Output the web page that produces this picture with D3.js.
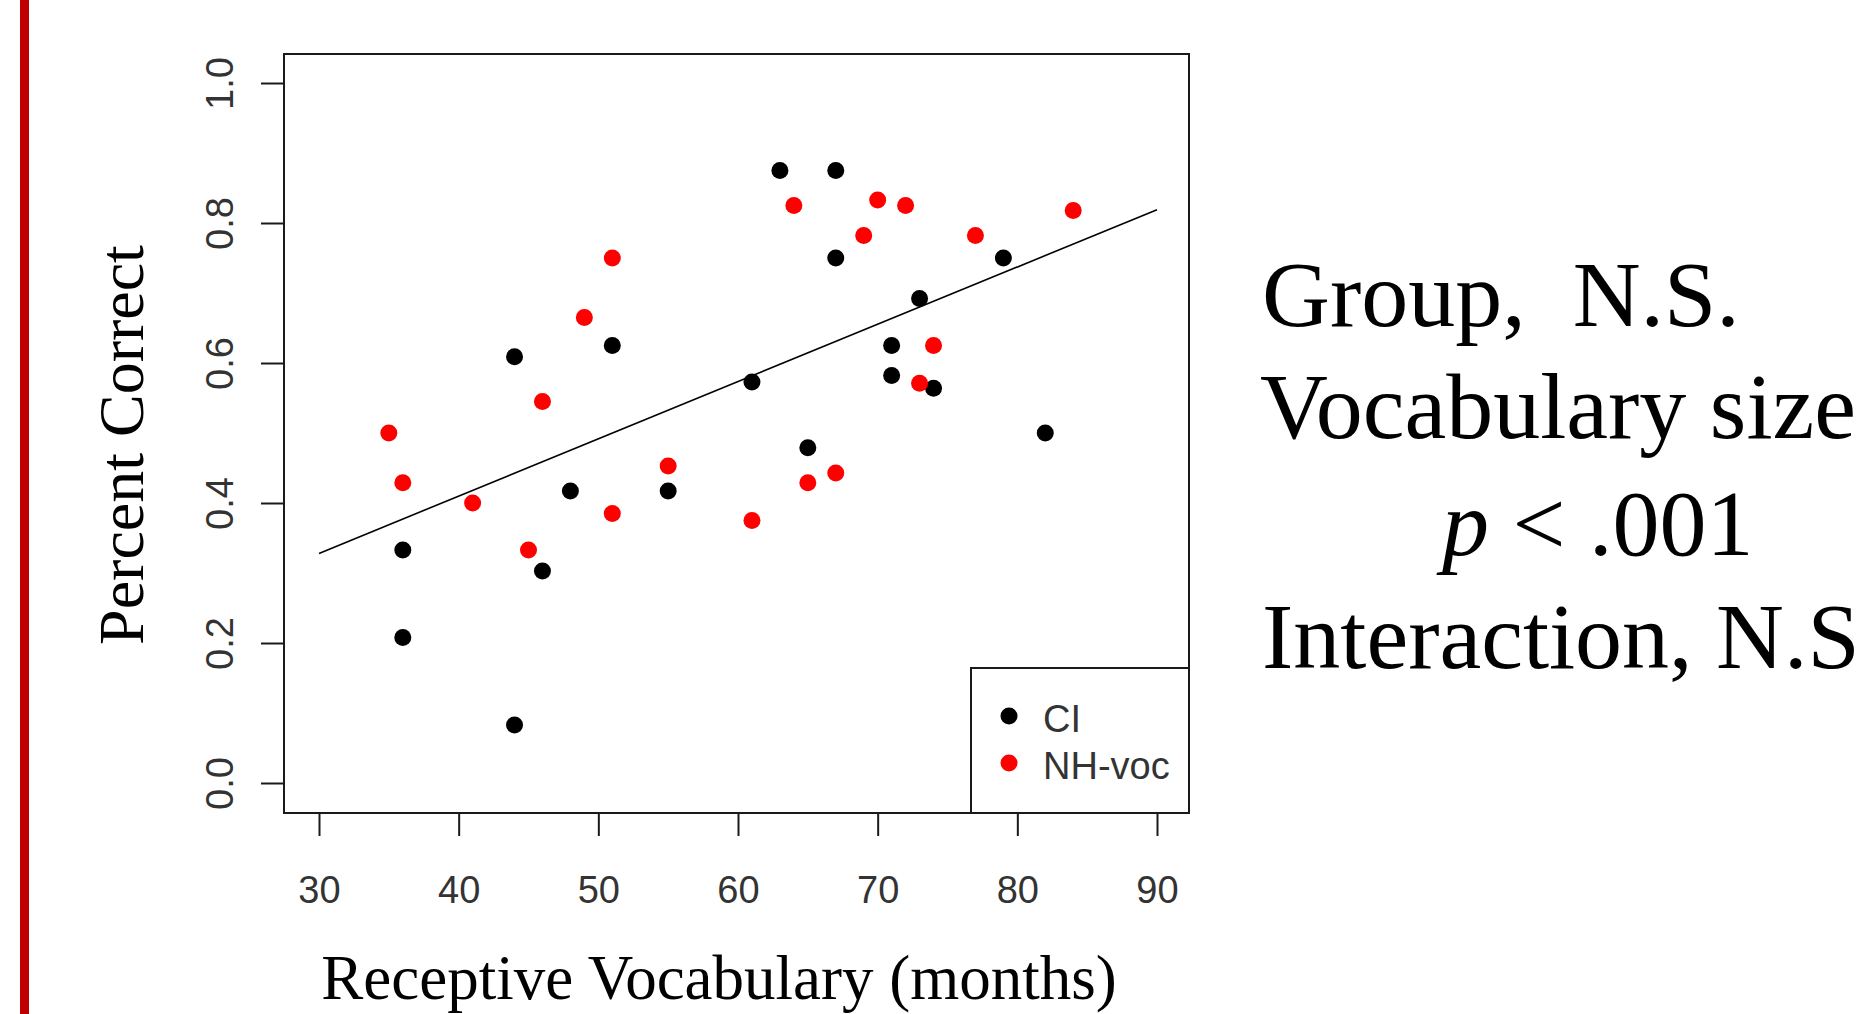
<!DOCTYPE html>
<html>
<head>
<meta charset="utf-8">
<script src="https://cdn.jsdelivr.net/npm/d3@7"></script>
<style>
  html, body { margin: 0; padding: 0; background: #fff; overflow: hidden; }
  svg { display: block; }
</style>
</head>
<body>
<div id="chart"></div>
<script>
// CI group: receptive vocabulary (months) and proportion correct
var ciVocab   = [63, 67, 67, 79, 73, 51, 71, 71, 74, 44, 61, 82, 65, 48, 55, 36, 46, 36, 44];
var ciCorrect = [0.875, 0.875, 0.75, 0.75, 0.692, 0.625, 0.625, 0.582, 0.564, 0.609, 0.573, 0.5, 0.479, 0.417, 0.417, 0.333, 0.303, 0.208, 0.083];

// NH-voc group
var nhVocab   = [64, 70, 72, 69, 77, 84, 51, 49, 46, 35, 36, 41, 45, 55, 51, 61, 65, 67, 74, 73];
var nhCorrect = [0.825, 0.833, 0.825, 0.782, 0.782, 0.818, 0.75, 0.665, 0.545, 0.5, 0.429, 0.4, 0.333, 0.453, 0.385, 0.375, 0.429, 0.443, 0.625, 0.571];

// fitted line end points
var fitVocab   = [30, 90];
var fitCorrect = [0.328, 0.819];

var xTicks = [30, 40, 50, 60, 70, 80, 90];
var yTicks = [0.0, 0.2, 0.4, 0.6, 0.8, 1.0];
var groupNames  = ["CI", "NH-voc"];
var groupColors = ["#000000", "#ff0000"];

(function() {
  var width = 1872, height = 1014;
  var box = { left: 284, top: 54, right: 1189, bottom: 813 };
  var sans = "'Liberation Sans', Arial, Helvetica, sans-serif";
  var serif = "'Liberation Serif', 'Times New Roman', Times, serif";
  var tickLen = 23;

  var svg = d3.select("#chart").append("svg")
    .attr("width", width)
    .attr("height", height);

  // slide accent bar on the left
  svg.append("rect")
    .attr("x", 20).attr("y", 0)
    .attr("width", 9).attr("height", height)
    .attr("fill", "#c00000");

  var x = d3.scaleLinear().domain([30, 90]).range([319, 1157]);
  var y = d3.scaleLinear().domain([0, 1]).range([783, 83]);

  // plot frame
  svg.append("rect")
    .attr("x", box.left).attr("y", box.top)
    .attr("width", box.right - box.left)
    .attr("height", box.bottom - box.top)
    .attr("fill", "none")
    .attr("stroke", "#1a1a1a")
    .attr("stroke-width", 2);

  var xAxis = d3.axisBottom(x).tickValues(xTicks).tickSize(tickLen).tickPadding(40)
    .tickFormat(d3.format("d"));
  var gx = svg.append("g")
    .attr("transform", "translate(0," + box.bottom + ")")
    .call(xAxis);
  gx.select(".domain").remove();
  gx.selectAll("line").attr("stroke", "#1a1a1a").attr("stroke-width", 2);
  gx.selectAll("text")
    .style("font-family", sans)
    .style("font-size", "38px")
    .attr("fill", "#333");

  var yAxis = d3.axisLeft(y).tickValues(yTicks).tickSize(tickLen)
    .tickFormat(d3.format(".1f"));
  var gy = svg.append("g")
    .attr("transform", "translate(" + box.left + ",0)")
    .call(yAxis);
  gy.select(".domain").remove();
  gy.selectAll("line").attr("stroke", "#1a1a1a").attr("stroke-width", 2);
  gy.selectAll("text")
    .attr("transform", "rotate(-90)")
    .attr("x", 0)
    .attr("y", -51)
    .attr("dy", 0)
    .attr("text-anchor", "middle")
    .style("font-family", sans)
    .style("font-size", "38px")
    .attr("fill", "#333");

  // fitted regression line
  var line = d3.line()
    .x(function(d) { return x(d[0]); })
    .y(function(d) { return y(d[1]); });
  svg.append("path")
    .datum(d3.zip(fitVocab, fitCorrect))
    .attr("d", line)
    .attr("fill", "none")
    .attr("stroke", "#000")
    .attr("stroke-width", 1.6);

  var groups = [d3.zip(ciVocab, ciCorrect), d3.zip(nhVocab, nhCorrect)];
  groups.forEach(function(pts, i) {
    svg.append("g").selectAll("circle")
      .data(pts)
      .enter().append("circle")
      .attr("cx", function(d) { return x(d[0]); })
      .attr("cy", function(d) { return y(d[1]); })
      .attr("r", 8.5)
      .attr("fill", groupColors[i]);
  });

  // legend in the lower right corner
  var legend = svg.append("g");
  legend.append("rect")
    .attr("x", 971).attr("y", 668)
    .attr("width", box.right - 971)
    .attr("height", box.bottom - 668)
    .attr("fill", "#fff")
    .attr("stroke", "#1a1a1a")
    .attr("stroke-width", 2);
  groupNames.forEach(function(name, i) {
    var ly = 716 + i * 47;
    legend.append("circle")
      .attr("cx", 1009).attr("cy", ly)
      .attr("r", 8.5)
      .attr("fill", groupColors[i]);
    legend.append("text")
      .attr("x", 1043).attr("y", ly + 16)
      .style("font-family", sans)
      .style("font-size", "38px")
      .attr("fill", "#333")
      .text(name);
  });

  // axis titles
  svg.append("text")
    .attr("x", 719).attr("y", 999)
    .attr("text-anchor", "middle")
    .style("font-family", serif)
    .style("font-size", "63px")
    .text("Receptive Vocabulary (months)");

  svg.append("text")
    .attr("transform", "translate(143,445) rotate(-90)")
    .attr("text-anchor", "middle")
    .style("font-family", serif)
    .style("font-size", "64px")
    .text("Percent Correct");

  // statistics summary on the right
  var stats = svg.append("g")
    .style("font-family", serif)
    .style("font-size", "94px")
    .attr("fill", "#000");
  stats.append("text").attr("x", 1262).attr("y", 326)
    .attr("xml:space", "preserve")
    .style("white-space", "pre")
    .text("Group,  N.S.");
  stats.append("text").attr("x", 1260).attr("y", 438)
    .text("Vocabulary size");
  var pl = stats.append("text").attr("x", 1442).attr("y", 555);
  pl.append("tspan").style("font-style", "italic").text("p");
  pl.append("tspan").text(" < .001");
  stats.append("text").attr("x", 1262).attr("y", 668)
    .text("Interaction, N.S");
}).call(this);
</script>
</body>
</html>
